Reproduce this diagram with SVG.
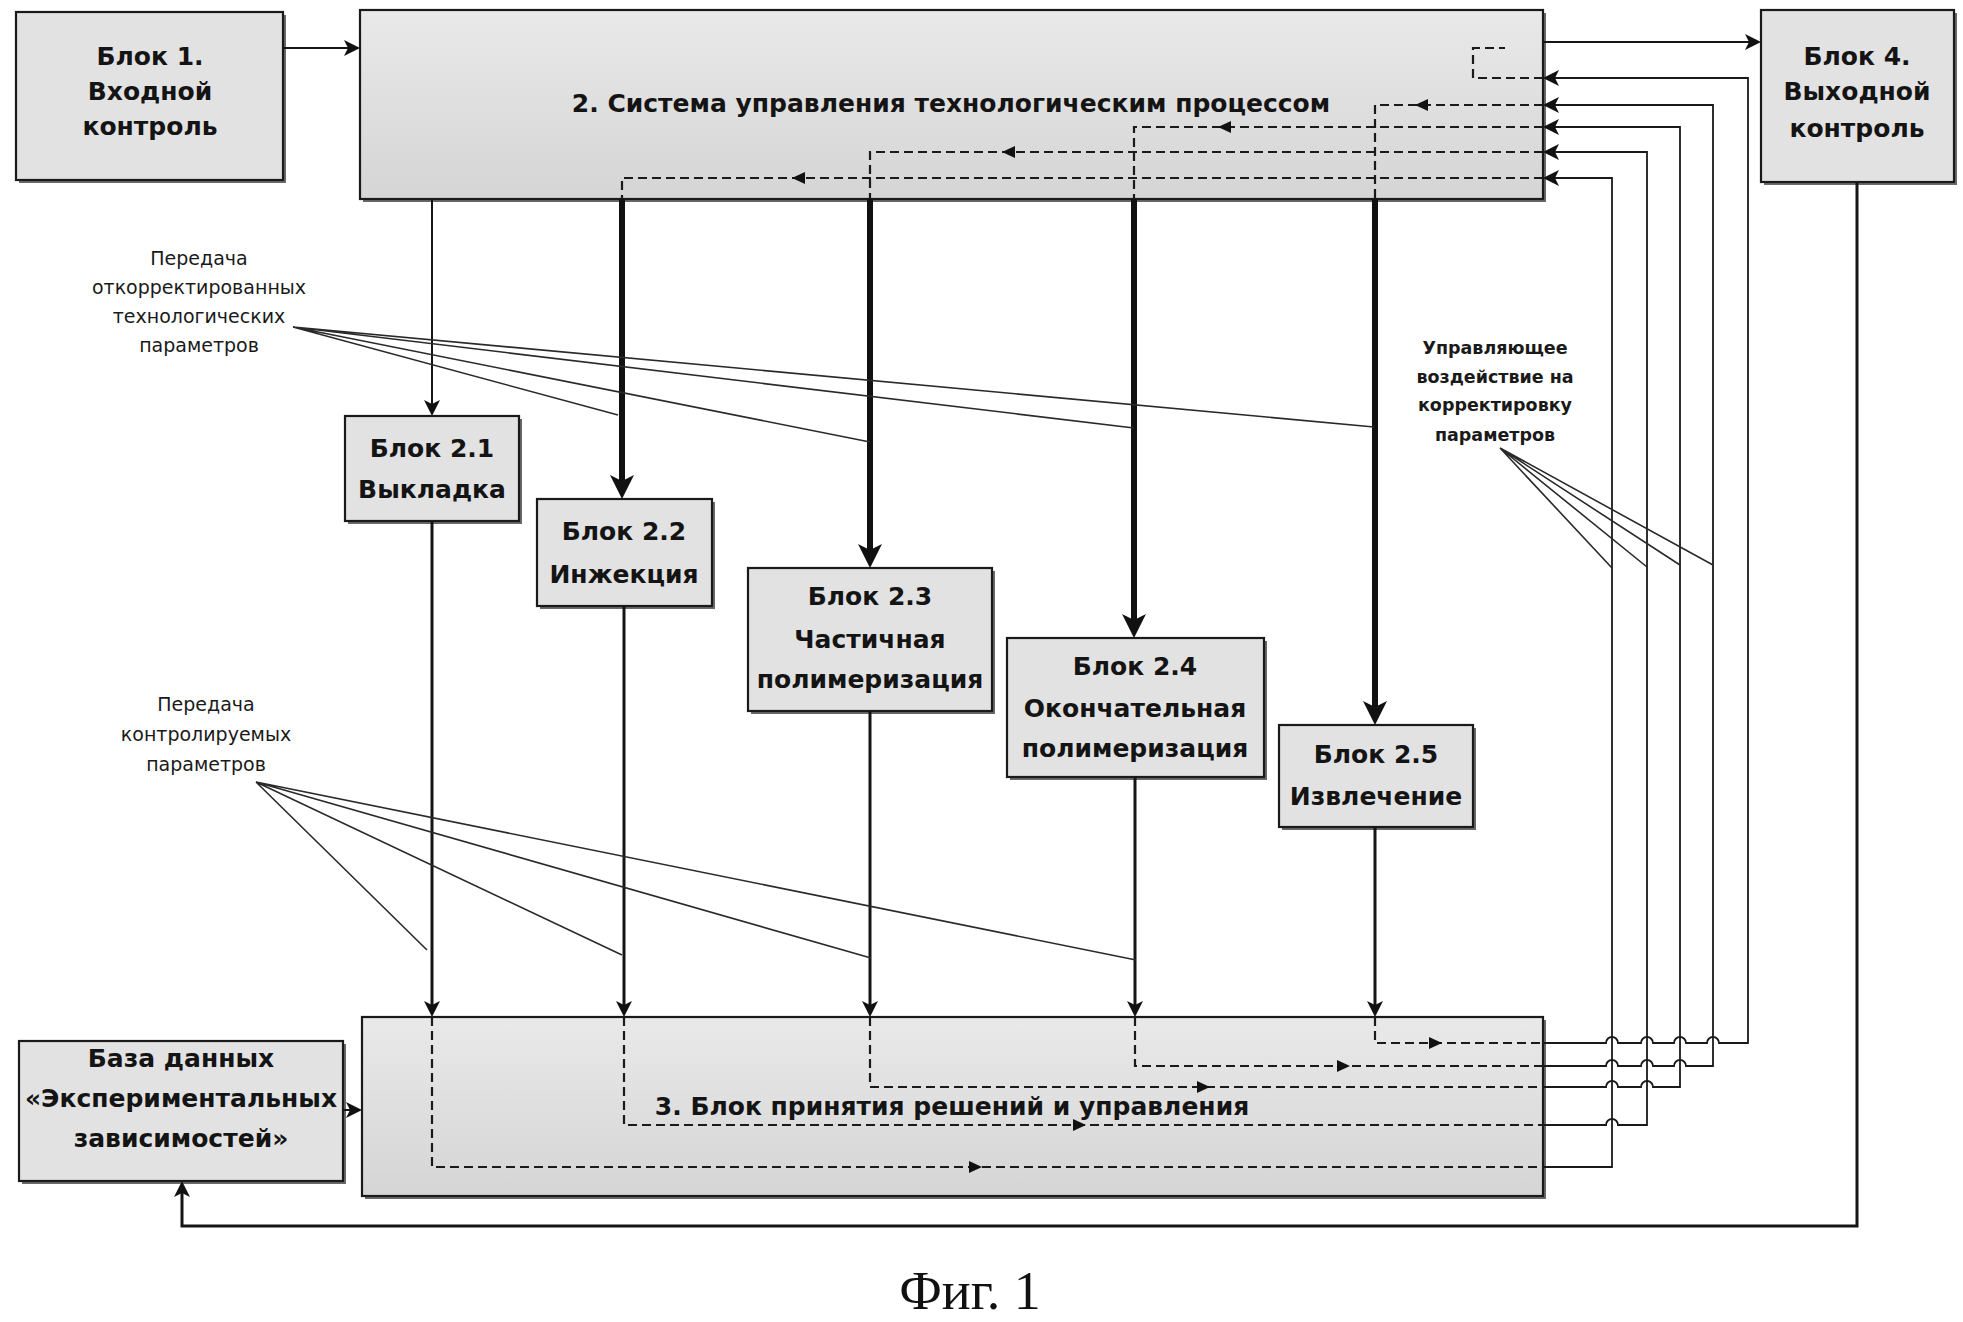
<svg xmlns="http://www.w3.org/2000/svg" xmlns:xlink="http://www.w3.org/1999/xlink" width="1963" height="1322" viewBox="0 0 1963 1322">
<style>
.box{fill:#e2e2e2;stroke:#1a1a1a;stroke-width:2.2}
.big{fill:url(#gb);stroke:#1a1a1a;stroke-width:2.2}
.sh{fill:#6a6a6a}
.t{font-family:"DejaVu Sans",sans-serif;font-weight:bold;font-size:25px;text-anchor:middle;fill:#141414}
.lb{font-family:"DejaVu Sans",sans-serif;font-size:19px;text-anchor:middle;fill:#1a1a1a}
.lbb{font-family:"DejaVu Sans",sans-serif;font-weight:bold;font-size:17.5px;text-anchor:middle;fill:#1a1a1a}
.cap{font-family:"Liberation Serif",serif;font-size:54px;text-anchor:middle;fill:#111}
.ln{fill:none;stroke:#151515;stroke-width:2}
.md{fill:none;stroke:#151515;stroke-width:3}
.tk{fill:none;stroke:#111;stroke-width:6}
.rt{fill:none;stroke:#1a1a1a;stroke-width:1.8}
.ds{fill:none;stroke:#1a1a1a;stroke-width:2.2;stroke-dasharray:9 5}
.fan{fill:none;stroke:#2a2a2a;stroke-width:1.6}
.hd{fill:#111}
</style>
<defs>
<linearGradient id="gb" x1="0" y1="0" x2="0" y2="1">
<stop offset="0" stop-color="#e9e9e9"/>
<stop offset="1" stop-color="#d5d5d5"/>
</linearGradient>
<marker id="ma" viewBox="0 0 10 10" refX="2.5" refY="5" markerWidth="16" markerHeight="16" markerUnits="userSpaceOnUse" orient="auto">
<path d="M0,0 L10,5 L0,10 L2.5,5 z" fill="#111"/>
</marker>
<marker id="mA" viewBox="0 0 10 10" refX="2.5" refY="5" markerWidth="24" markerHeight="24" markerUnits="userSpaceOnUse" orient="auto">
<path d="M0,0 L10,5 L0,10 L2.5,5 z" fill="#111"/>
</marker>
<path id="tL" d="M0,0 L13,-6 L13,6 z"/>
<path id="tR" d="M0,0 L-13,-6 L-13,6 z"/>
</defs>
<rect width="1963" height="1322" fill="#ffffff"/>

<g id="block1">
<rect class="sh" x="19" y="15" width="267" height="168"/>
<rect class="box" x="16" y="12" width="267" height="168"/>
<text class="t" x="150" y="65">Блок 1.</text>
<text class="t" x="150" y="100">Входной</text>
<text class="t" x="150" y="135">контроль</text>
</g>

<g id="block2">
<rect class="sh" x="363" y="13" width="1183" height="189"/>
<rect class="big" x="360" y="10" width="1183" height="189"/>
<text class="t" x="951" y="112">2. Система управления технологическим процессом</text>
</g>

<g id="block4">
<rect class="sh" x="1764" y="13" width="193" height="172"/>
<rect class="box" x="1761" y="10" width="193" height="172"/>
<text class="t" x="1857" y="65">Блок 4.</text>
<text class="t" x="1857" y="100">Выходной</text>
<text class="t" x="1857" y="137">контроль</text>
</g>

<g id="block2-1">
<rect class="sh" x="348" y="419" width="174" height="105"/>
<rect class="box" x="345" y="416" width="174" height="105"/>
<text class="t" x="432" y="457">Блок 2.1</text>
<text class="t" x="432" y="498">Выкладка</text>
</g>

<g id="block2-2">
<rect class="sh" x="540" y="502" width="175" height="107"/>
<rect class="box" x="537" y="499" width="175" height="107"/>
<text class="t" x="624" y="540">Блок 2.2</text>
<text class="t" x="624" y="583">Инжекция</text>
</g>

<g id="block2-3">
<rect class="sh" x="751" y="571" width="244" height="143"/>
<rect class="box" x="748" y="568" width="244" height="143"/>
<text class="t" x="870" y="605">Блок 2.3</text>
<text class="t" x="870" y="648">Частичная</text>
<text class="t" x="870" y="688">полимеризация</text>
</g>

<g id="block2-4">
<rect class="sh" x="1010" y="641" width="257" height="139"/>
<rect class="box" x="1007" y="638" width="257" height="139"/>
<text class="t" x="1135" y="675">Блок 2.4</text>
<text class="t" x="1135" y="717">Окончательная</text>
<text class="t" x="1135" y="757">полимеризация</text>
</g>

<g id="block2-5">
<rect class="sh" x="1282" y="728" width="194" height="102"/>
<rect class="box" x="1279" y="725" width="194" height="102"/>
<text class="t" x="1376" y="763">Блок 2.5</text>
<text class="t" x="1376" y="805">Извлечение</text>
</g>

<g id="block3">
<rect class="sh" x="365" y="1020" width="1181" height="179"/>
<rect class="big" x="362" y="1017" width="1181" height="179"/>
<text class="t" x="952" y="1115">3. Блок принятия решений и управления</text>
</g>

<g id="database">
<rect class="sh" x="22" y="1044" width="324" height="140"/>
<rect class="box" x="19" y="1041" width="324" height="140"/>
<text class="t" x="181" y="1067">База данных</text>
<text class="t" x="181" y="1107">«Экспериментальных</text>
<text class="t" x="181" y="1147">зависимостей»</text>
</g>

<g id="label-corrected">
<text class="lb" x="199" y="265">Передача</text>
<text class="lb" x="199" y="294">откорректированных</text>
<text class="lb" x="199" y="323">технологических</text>
<text class="lb" x="199" y="352">параметров</text>
</g>

<g id="label-control">
<text class="lbb" x="1495" y="354">Управляющее</text>
<text class="lbb" x="1495" y="383">воздействие на</text>
<text class="lbb" x="1495" y="411">корректировку</text>
<text class="lbb" x="1495" y="441">параметров</text>
</g>

<g id="label-monitored">
<text class="lb" x="206" y="711">Передача</text>
<text class="lb" x="206" y="741">контролируемых</text>
<text class="lb" x="206" y="771">параметров</text>
</g>

<g id="connectors">
<path class="ln" d="M283,48 H348" marker-end="url(#ma)"/>
<path class="ln" d="M1543,42 H1749" marker-end="url(#ma)"/>
<path class="ln" d="M343,1110 H350" marker-end="url(#ma)"/>
<path class="md" d="M1857,182 V1226 H182 V1193" marker-end="url(#ma)"/>

<path class="ln" d="M432,199 V404" marker-end="url(#ma)"/>
<path class="tk" d="M622,199 V481" marker-end="url(#mA)"/>
<path class="tk" d="M870,199 V550" marker-end="url(#mA)"/>
<path class="tk" d="M1134,199 V620" marker-end="url(#mA)"/>
<path class="tk" d="M1375,199 V707" marker-end="url(#mA)"/>

<path class="md" d="M432,521 V1005" marker-end="url(#ma)"/>
<path class="md" d="M624,606 V1005" marker-end="url(#ma)"/>
<path class="md" d="M870,711 V1005" marker-end="url(#ma)"/>
<path class="md" d="M1135,777 V1005" marker-end="url(#ma)"/>
<path class="md" d="M1375,827 V1005" marker-end="url(#ma)"/>

<path class="ds" d="M1375,1017 V1043 H1543"/>
<path class="ds" d="M1135,1017 V1066 H1543"/>
<path class="ds" d="M870,1017 V1087 H1543"/>
<path class="ds" d="M624,1017 V1125 H1543"/>
<path class="ds" d="M432,1017 V1167 H1543"/>
<use xlink:href="#tR" href="#tR" class="hd" x="1442" y="1043"/>
<use xlink:href="#tR" href="#tR" class="hd" x="1350" y="1066"/>
<use xlink:href="#tR" href="#tR" class="hd" x="1210" y="1087"/>
<use xlink:href="#tR" href="#tR" class="hd" x="1086" y="1125"/>
<use xlink:href="#tR" href="#tR" class="hd" x="982" y="1167"/>

<path class="rt" d="M1543,1043 H1606 a6,6 0 0 1 12,0 H1641 a6,6 0 0 1 12,0 H1674 a6,6 0 0 1 12,0 H1707 a6,6 0 0 1 12,0 H1748 V78 H1555" marker-end="url(#ma)"/>
<path class="rt" d="M1543,1066 H1606 a6,6 0 0 1 12,0 H1641 a6,6 0 0 1 12,0 H1674 a6,6 0 0 1 12,0 H1713 V105 H1555" marker-end="url(#ma)"/>
<path class="rt" d="M1543,1087 H1606 a6,6 0 0 1 12,0 H1641 a6,6 0 0 1 12,0 H1680 V127 H1555" marker-end="url(#ma)"/>
<path class="rt" d="M1543,1125 H1606 a6,6 0 0 1 12,0 H1647 V152 H1555" marker-end="url(#ma)"/>
<path class="rt" d="M1543,1167 H1612 V178 H1555" marker-end="url(#ma)"/>

<path class="ds" d="M1543,78 H1473 V48 H1505"/>
<path class="ds" d="M1543,105 H1375 V199"/>
<path class="ds" d="M1543,127 H1134 V199"/>
<path class="ds" d="M1543,152 H870 V199"/>
<path class="ds" d="M1543,178 H622 V199"/>
<use xlink:href="#tL" href="#tL" class="hd" x="1415" y="105"/>
<use xlink:href="#tL" href="#tL" class="hd" x="1218" y="127"/>
<use xlink:href="#tL" href="#tL" class="hd" x="1002" y="152"/>
<use xlink:href="#tL" href="#tL" class="hd" x="792" y="178"/>

<path class="fan" d="M293,327 L618,415 M293,327 L870,442 M293,327 L1134,428 M293,327 L1374,427"/>
<path class="fan" d="M1500,448 L1612,568 M1500,448 L1647,567 M1500,448 L1680,565 M1500,448 L1713,565"/>
<path class="fan" d="M256,782 L427,950 M256,782 L622,955 M256,782 L871,958 M256,782 L1136,960"/>
</g>

<text class="cap" x="970" y="1309">Фиг. 1</text>
</svg>
